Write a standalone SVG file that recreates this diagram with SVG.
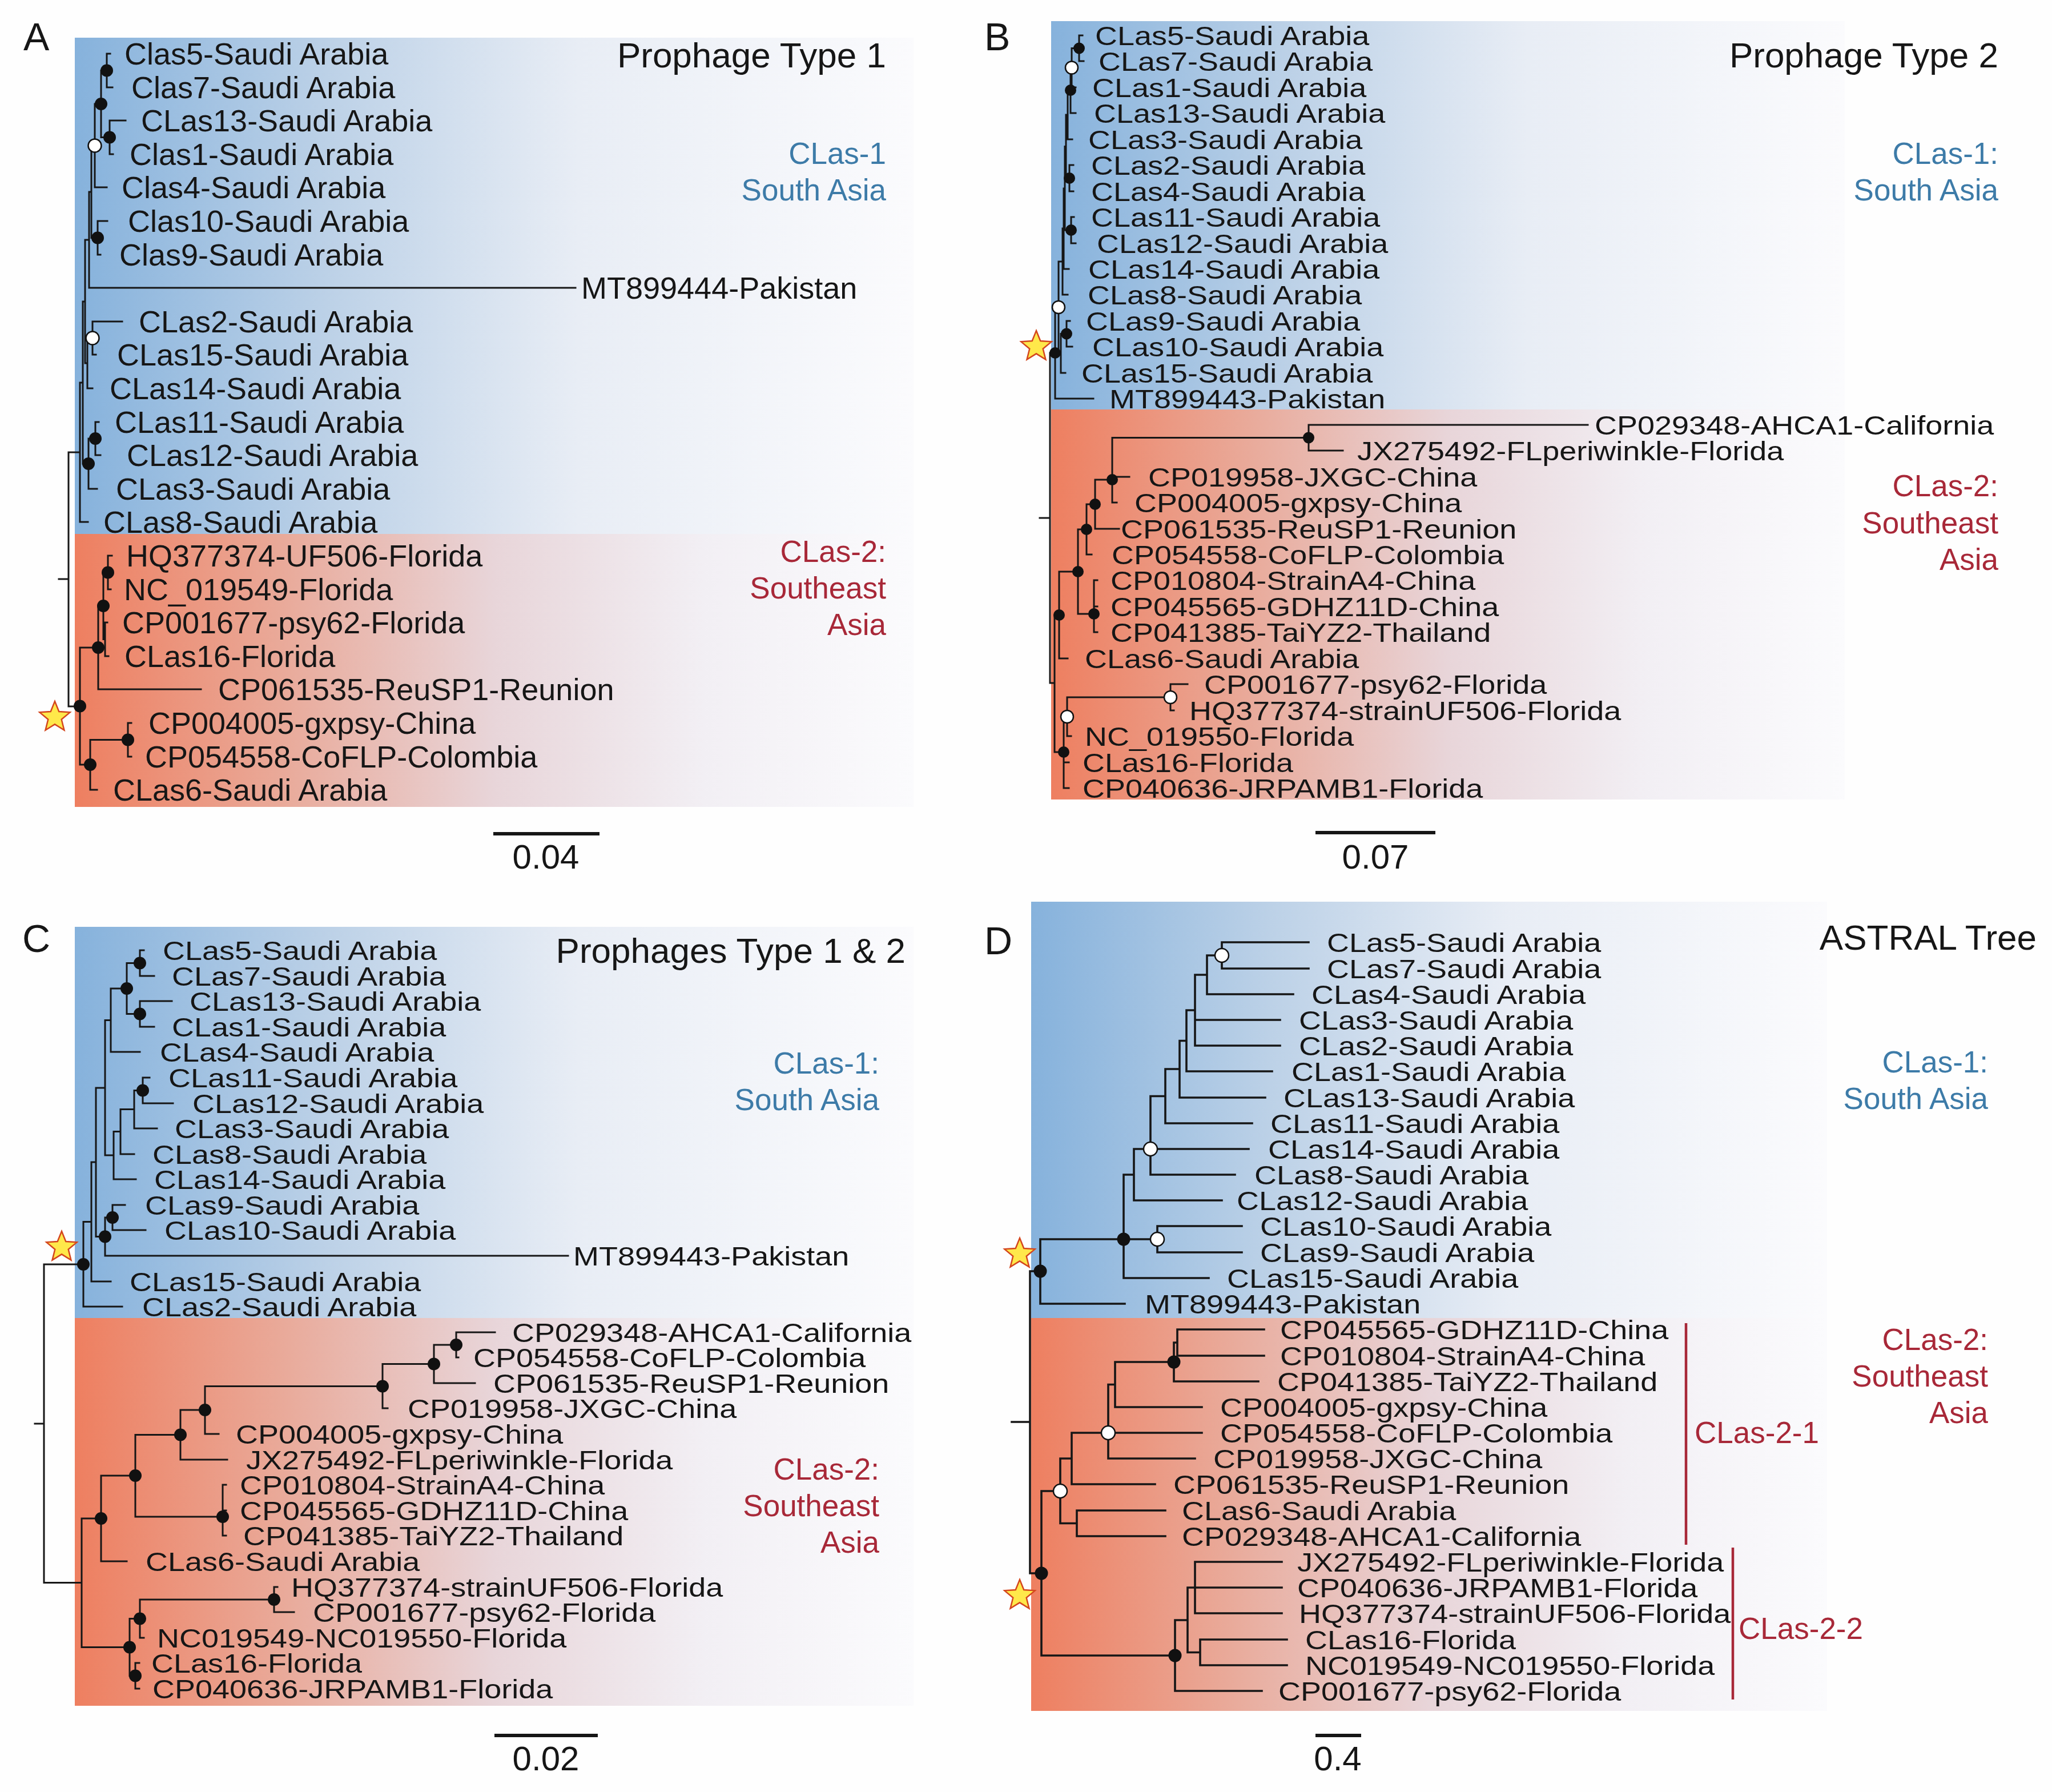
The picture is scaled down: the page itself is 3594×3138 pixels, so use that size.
<svg xmlns="http://www.w3.org/2000/svg" width="3594" height="3138" viewBox="0 0 3594 3138">
<style>
.t{font-family:"Liberation Sans",Arial,sans-serif;font-size:54px;fill:#161616}
.ti{font-family:"Liberation Sans",Arial,sans-serif;font-size:62px;fill:#161616;text-anchor:end}
.pl{font-family:"Liberation Sans",Arial,sans-serif;font-size:68px;fill:#161616}
.sc{font-family:"Liberation Sans",Arial,sans-serif;font-size:60px;fill:#161616;text-anchor:middle}
.c1{font-family:"Liberation Sans",Arial,sans-serif;font-size:53px;fill:#3d7ba8;text-anchor:end}
.c2{font-family:"Liberation Sans",Arial,sans-serif;font-size:53px;fill:#a82838;text-anchor:end}
.c2s{font-family:"Liberation Sans",Arial,sans-serif;font-size:53px;fill:#a82838}
.br{fill:none;stroke:#161616;stroke-width:3;stroke-linecap:square}
.brd{fill:none;stroke:#161616;stroke-width:3.6;stroke-linecap:square}
.bar{fill:none;stroke:#161616;stroke-width:6}
.rbar{fill:none;stroke:#a82838;stroke-width:4.5}
.dot{fill:#111}
.oc{fill:#fff;stroke:#111;stroke-width:2.5}
.star{fill:#ffe84a;stroke:#d4461d;stroke-width:2.5}
</style>
<defs>
<linearGradient id="gb" x1="0" y1="0" x2="1" y2="0">
<stop offset="0" stop-color="#86b2dc"/><stop offset="0.3" stop-color="#bcd1e7"/><stop offset="0.6" stop-color="#e8edf5"/><stop offset="1" stop-color="#fbfbfd"/>
</linearGradient>
<linearGradient id="go" x1="0" y1="0" x2="1" y2="0">
<stop offset="0" stop-color="#ee7f60"/><stop offset="0.25" stop-color="#e9aa9a"/><stop offset="0.5" stop-color="#e8d5d9"/><stop offset="0.75" stop-color="#f2eff4"/><stop offset="1" stop-color="#fbfbfd"/>
</linearGradient>
<path id="st" d="M0-28L7.25-9.97 26.63-8.66 11.72 3.81 16.45 22.66 0 12.32-16.45 22.66-11.72 3.81-26.63-8.66-7.25-9.97Z"/>
</defs>
<rect width="3594" height="3138" fill="#fefefe"/>

<!-- backgrounds -->
<g id="backgrounds">
<rect x="131" y="66" width="1469" height="869" fill="url(#gb)"/>
<rect x="131" y="935" width="1469" height="478" fill="url(#go)"/>
<rect x="1841" y="37" width="1390" height="680" fill="url(#gb)"/>
<rect x="1841" y="717" width="1390" height="683" fill="url(#go)"/>
<rect x="131" y="1623" width="1469" height="685" fill="url(#gb)"/>
<rect x="131" y="2308" width="1469" height="679" fill="url(#go)"/>
<rect x="1806" y="1579" width="1394" height="729" fill="url(#gb)"/>
<rect x="1806" y="2308" width="1394" height="688" fill="url(#go)"/>
</g>

<!-- connectors -->
<g id="connectors">
<path id="A-branches" class="br" d="M187 94V153M187 94H193M187 153H197M192 211V270M192 211H220M192 270H198M177 123.5V240.5M177 123.5H187M177 240.5H192M166 182V328M166 182H177M166 328H187M171 387V446M171 387H188M171 446H176M160 255V416.5M160 255H166M160 416.5H171M156 336V504M156 336H160M156 504H1008M162 563V621M162 563H214M162 621H168M153 592V680M153 592H162M153 680H162M149 420V636M149 420H156M149 636H153M167 739V797M167 739H173M167 797H176M155 768V856M155 768H167M155 856H170M145 528V812M145 528H149M145 812H155M140 670V914M140 670H145M140 914H154M120 792V1237M120 792H140M120 1237H140M103 1014H120M189 973V1032M189 973H196M189 1032H194M184 1090V1149M184 1090H188M184 1149H190M181 1002.5V1119.5M181 1002.5H189M181 1119.5H184M172 1061V1207M172 1061H181M172 1207H352M224 1266V1325M224 1266H230M224 1325H230M158 1295.5V1383M158 1295.5H224M158 1383H170M140 1134V1339M140 1134H172M140 1339H158"/>
<path id="B-branches" class="br" d="M1890 62V107M1890 62H1896M1890 107H1898M1877 84.5V153M1877 84.5H1890M1877 153H1884M1875 118.5V198M1875 118.5H1877M1875 198H1884M1870 158V244M1870 158H1875M1870 244H1878M1873 289V335M1873 289H1880M1873 335H1880M1867 201V312M1867 201H1870M1867 312H1873M1876 380V426M1876 380H1881M1876 426H1884M1865 256.5V403M1865 256.5H1867M1865 403H1876M1863 330V471M1863 330H1865M1863 471H1872M1861 400V516M1861 400H1863M1861 516H1870M1868 562V607M1868 562H1874M1868 607H1878M1858 584.5V653M1858 584.5H1868M1858 653H1866M1854 458V619M1854 458H1861M1854 619H1858M1848 538V698M1848 538H1854M1848 698H1915M1839 618V1196M1839 618H1848M1839 1196H1847M1821 907H1839M2292 744V789M2292 744H2781M2292 789H2352M1948 766.5V880M1948 766.5H2292M1948 835H1978M1948 880H1956M1918 840V926M1918 840H1948M1918 926H1960M1903 883V971M1903 883H1918M1903 971H1912M1916 1016V1107M1916 1016H1922M1916 1062H1922M1916 1107H1922M1888 927V1075M1888 927H1903M1888 1075H1916M1855 1001V1153M1855 1001H1888M1855 1153H1870M2050 1198V1244M2050 1198H2080M2050 1244H2056M1869 1221V1289M1869 1221H2050M1869 1289H1876M1863 1255V1380M1863 1255H1869M1863 1335H1872M1863 1380H1872M1847 1077V1317M1847 1077H1855M1847 1317H1863"/>
<path id="C-branches" class="br" d="M245 1664V1709M245 1664H252M245 1709H270M245 1753V1798M245 1753H301M245 1798H270M222 1686.5V1775.5M222 1686.5H245M222 1775.5H245M194 1731V1842M194 1731H222M194 1842H245M250 1887V1932M250 1887H262M250 1932H303M235 1909.5V1976M235 1909.5H250M235 1976H275M211 1942.5V2021M211 1942.5H235M211 2021H235M199 1981.5V2065M199 1981.5H211M199 2065H238M184 1786.5V2023M184 1786.5H194M184 2023H199M197 2110V2154M197 2110H219M197 2154H255M184 2132V2199M184 2132H197M184 2199H995M168 1905V2165.5M168 1905H184M168 2165.5H184M160 2035V2244M160 2035H168M160 2244H194M146 2139.5V2288M146 2139.5H160M146 2288H214M77 2214V2771.5M77 2214H146M77 2771.5H143M61 2493H77M799 2333V2377M799 2333H867M799 2377H803M760 2355V2422M760 2355H799M760 2422H832M670 2388.5V2466M670 2388.5H760M670 2466H679M359 2427.5V2511M359 2427.5H670M359 2511H383M316 2469V2556M316 2469H359M316 2556H398M390 2600V2689M390 2600H396M390 2645H396M390 2689H396M237 2512.5V2656M237 2512.5H316M237 2656H390M177 2584V2734M177 2584H237M177 2734H222M480 2779V2823M480 2779H486M480 2823H515M245 2801V2868M245 2801H480M245 2868H252M237 2912V2957M237 2912H244M237 2957H244M227 2834.5V2934.5M227 2834.5H245M227 2934.5H237M143 2659V2884.5M143 2659H177M143 2884.5H227"/>
<path id="D-branches" class="brd" d="M2140 1650V1696M2140 1650H2292M2140 1696H2292M2114 1673V1741M2114 1673H2140M2114 1741H2265M2093 1707V1831M2093 1707H2114M2093 1786H2242M2093 1831H2242M2078 1769V1876M2078 1769H2093M2078 1876H2228M2066 1822.5V1922M2066 1822.5H2078M2066 1922H2216M2041 1872V1967M2041 1872H2066M2041 1967H2193M2015 1919.5V2057M2015 1919.5H2041M2015 2012H2187M2015 2057H2163M1986 2012V2102M1986 2012H2015M1986 2102H2140M2027 2147V2193M2027 2147H2175M2027 2193H2175M1968 2057V2238M1968 2057H1986M1968 2170H2027M1968 2238H2117M1822 2170V2283M1822 2170H1968M1822 2283H1970M1804 2226V2755M1804 2226H1822M1804 2755H1824M1772 2490H1804M2062 2328V2374M2062 2328H2214M2062 2374H2214M2056 2351V2419M2056 2351H2062M2056 2419H2204M1953 2385V2464M1953 2385H2056M1953 2464H2105M1941 2424.5V2554M1941 2424.5H1953M1941 2509H2105M1941 2554H2093M1877 2509V2599M1877 2509H1941M1877 2599H2023M1886 2645V2690M1886 2645H2041M1886 2690H2041M1857 2554V2667.5M1857 2554H1877M1857 2667.5H1886M2093 2735V2825M2093 2735H2245M2093 2780H2245M2093 2825H2245M2102 2871V2916M2102 2871H2254M2102 2916H2254M2080 2780V2893.5M2080 2780H2093M2080 2893.5H2102M2058 2837V2961M2058 2837H2080M2058 2961H2210M1824 2611V2899M1824 2611H1857M1824 2899H2058"/>
</g>

<!-- internal node markers -->
<g id="A-nodes">
<g class="dot"><circle cx="187" cy="123.5" r="11"/><circle cx="177" cy="182" r="11"/><circle cx="192" cy="240.5" r="11"/><circle cx="171" cy="416.5" r="11"/><circle cx="167" cy="768" r="11"/><circle cx="155" cy="812" r="11"/><circle cx="189" cy="1002.5" r="11"/><circle cx="181" cy="1061" r="11"/><circle cx="172" cy="1134" r="11"/><circle cx="224" cy="1295.5" r="11"/><circle cx="158" cy="1339" r="11"/><circle cx="140" cy="1236.5" r="11"/></g>
<g class="oc"><circle cx="166" cy="255" r="11.5"/><circle cx="162" cy="592" r="11.5"/></g>
<use href="#st" class="star" x="96" y="1256"/>
</g>
<g id="B-nodes">
<g class="dot"><circle cx="1890" cy="84.5" r="10"/><circle cx="1875" cy="158" r="10"/><circle cx="1873" cy="312" r="10"/><circle cx="1876" cy="403" r="10"/><circle cx="1868" cy="584.5" r="10"/><circle cx="1848" cy="618" r="10"/><circle cx="2292" cy="766.5" r="10"/><circle cx="1948" cy="840" r="10"/><circle cx="1918" cy="883" r="10"/><circle cx="1903" cy="927" r="10"/><circle cx="1888" cy="1001" r="10"/><circle cx="1916" cy="1075" r="10"/><circle cx="1855" cy="1077" r="10"/><circle cx="1863" cy="1317" r="10"/></g>
<g class="oc"><circle cx="1877" cy="118.5" r="11"/><circle cx="1854" cy="538" r="11"/><circle cx="2050" cy="1221" r="11"/><circle cx="1869" cy="1255" r="11"/></g>
<use href="#st" class="star" x="1815" y="607"/>
</g>
<g id="C-nodes">
<g class="dot"><circle cx="245" cy="1686.5" r="11"/><circle cx="245" cy="1775.5" r="11"/><circle cx="222" cy="1731" r="11"/><circle cx="250" cy="1909.5" r="11"/><circle cx="197" cy="2132" r="11"/><circle cx="184" cy="2165.5" r="11"/><circle cx="146" cy="2214" r="11"/><circle cx="799" cy="2355" r="11"/><circle cx="760" cy="2388.5" r="11"/><circle cx="670" cy="2427.5" r="11"/><circle cx="359" cy="2469" r="11"/><circle cx="316" cy="2512.5" r="11"/><circle cx="390" cy="2656" r="11"/><circle cx="237" cy="2584" r="11"/><circle cx="177" cy="2659" r="11"/><circle cx="480" cy="2801" r="11"/><circle cx="245" cy="2834.5" r="11"/><circle cx="227" cy="2884.5" r="11"/><circle cx="237" cy="2934.5" r="11"/></g>
<use href="#st" class="star" x="108" y="2184"/>
</g>
<g id="D-nodes">
<g class="dot"><circle cx="1968" cy="2170" r="11.5"/><circle cx="1822" cy="2226" r="11.5"/><circle cx="2056" cy="2385" r="11.5"/><circle cx="2058" cy="2899" r="11.5"/><circle cx="1824" cy="2755" r="11.5"/></g>
<g class="oc"><circle cx="2140" cy="1673" r="12"/><circle cx="2015" cy="2012" r="12"/><circle cx="2027" cy="2170" r="12"/><circle cx="1941" cy="2509" r="12"/><circle cx="1857" cy="2611" r="12"/></g>
<use href="#st" class="star" x="1786" y="2196"/>
<use href="#st" class="star" x="1786" y="2794"/>
</g>

<!-- Panel A -->
<g id="panel-A">
<text class="pl" x="41" y="88">A</text>
<text class="ti" x="1552" y="118">Prophage Type 1</text>
<text class="c1" x="1552" y="287">CLas-1</text>
<text class="c1" x="1552" y="351">South Asia</text>
<text class="c2" x="1552" y="984">CLas-2:</text>
<text class="c2" x="1552" y="1048">Southeast</text>
<text class="c2" x="1552" y="1112">Asia</text>
<path class="bar" d="M864 1460H1050"/>
<text class="sc" x="956" y="1521">0.04</text>
<g id="A-leaf-1"><text class="t" x="218" y="113">Clas5-Saudi Arabia</text></g>
<g id="A-leaf-2"><text class="t" x="230" y="172">Clas7-Saudi Arabia</text></g>
<g id="A-leaf-3"><text class="t" x="247" y="230">CLas13-Saudi Arabia</text></g>
<g id="A-leaf-4"><text class="t" x="227" y="289">Clas1-Saudi Arabia</text></g>
<g id="A-leaf-5"><text class="t" x="213" y="347">Clas4-Saudi Arabia</text></g>
<g id="A-leaf-6"><text class="t" x="224" y="406">Clas10-Saudi Arabia</text></g>
<g id="A-leaf-7"><text class="t" x="209" y="465">Clas9-Saudi Arabia</text></g>
<g id="A-leaf-8"><text class="t" x="1018" y="523">MT899444-Pakistan</text></g>
<g id="A-leaf-9"><text class="t" x="243" y="582">CLas2-Saudi Arabia</text></g>
<g id="A-leaf-10"><text class="t" x="205" y="640">CLas15-Saudi Arabia</text></g>
<g id="A-leaf-11"><text class="t" x="192" y="699">CLas14-Saudi Arabia</text></g>
<g id="A-leaf-12"><text class="t" x="201" y="758">CLas11-Saudi Arabia</text></g>
<g id="A-leaf-13"><text class="t" x="222" y="816">CLas12-Saudi Arabia</text></g>
<g id="A-leaf-14"><text class="t" x="203" y="875">CLas3-Saudi Arabia</text></g>
<g id="A-leaf-15"><text class="t" x="181" y="933">CLas8-Saudi Arabia</text></g>
<g id="A-leaf-16"><text class="t" x="221" y="992">HQ377374-UF506-Florida</text></g>
<g id="A-leaf-17"><text class="t" x="217" y="1051">NC_019549-Florida</text></g>
<g id="A-leaf-18"><text class="t" x="214" y="1109">CP001677-psy62-Florida</text></g>
<g id="A-leaf-19"><text class="t" x="218" y="1168">CLas16-Florida</text></g>
<g id="A-leaf-20"><text class="t" x="382" y="1226">CP061535-ReuSP1-Reunion</text></g>
<g id="A-leaf-21"><text class="t" x="260" y="1285">CP004005-gxpsy-China</text></g>
<g id="A-leaf-22"><text class="t" x="254" y="1344">CP054558-CoFLP-Colombia</text></g>
<g id="A-leaf-23"><text class="t" x="198" y="1402">CLas6-Saudi Arabia</text></g>
</g>

<!-- Panel B -->
<g id="panel-B">
<text class="pl" x="1724" y="88">B</text>
<text class="ti" x="3500" y="118">Prophage Type 2</text>
<text class="c1" x="3500" y="287">CLas-1:</text>
<text class="c1" x="3500" y="351">South Asia</text>
<text class="c2" x="3500" y="869">CLas-2:</text>
<text class="c2" x="3500" y="934">Southeast</text>
<text class="c2" x="3500" y="998">Asia</text>
<path class="bar" d="M2304 1458H2514"/>
<text class="sc" x="2409" y="1521">0.07</text>
<g id="B-leaf-1"><text class="t" transform="matrix(1 0 0 .85 1918 79)">CLas5-Saudi Arabia</text></g>
<g id="B-leaf-2"><text class="t" transform="matrix(1 0 0 .85 1924 124)">CLas7-Saudi Arabia</text></g>
<g id="B-leaf-3"><text class="t" transform="matrix(1 0 0 .85 1913 170)">CLas1-Saudi Arabia</text></g>
<g id="B-leaf-4"><text class="t" transform="matrix(1 0 0 .85 1916 215)">CLas13-Saudi Arabia</text></g>
<g id="B-leaf-5"><text class="t" transform="matrix(1 0 0 .85 1906 261)">CLas3-Saudi Arabia</text></g>
<g id="B-leaf-6"><text class="t" transform="matrix(1 0 0 .85 1911 306)">CLas2-Saudi Arabia</text></g>
<g id="B-leaf-7"><text class="t" transform="matrix(1 0 0 .85 1911 352)">CLas4-Saudi Arabia</text></g>
<g id="B-leaf-8"><text class="t" transform="matrix(1 0 0 .85 1911 397)">CLas11-Saudi Arabia</text></g>
<g id="B-leaf-9"><text class="t" transform="matrix(1 0 0 .85 1921 443)">CLas12-Saudi Arabia</text></g>
<g id="B-leaf-10"><text class="t" transform="matrix(1 0 0 .85 1906 488)">CLas14-Saudi Arabia</text></g>
<g id="B-leaf-11"><text class="t" transform="matrix(1 0 0 .85 1905 533)">CLas8-Saudi Arabia</text></g>
<g id="B-leaf-12"><text class="t" transform="matrix(1 0 0 .85 1902 579)">CLas9-Saudi Arabia</text></g>
<g id="B-leaf-13"><text class="t" transform="matrix(1 0 0 .85 1913 624)">CLas10-Saudi Arabia</text></g>
<g id="B-leaf-14"><text class="t" transform="matrix(1 0 0 .85 1894 670)">CLas15-Saudi Arabia</text></g>
<g id="B-leaf-15"><text class="t" transform="matrix(1 0 0 .85 1943 715)">MT899443-Pakistan</text></g>
<g id="B-leaf-16"><text class="t" transform="matrix(1 0 0 .85 2793 761)">CP029348-AHCA1-California</text></g>
<g id="B-leaf-17"><text class="t" transform="matrix(1 0 0 .85 2377 806)">JX275492-FLperiwinkle-Florida</text></g>
<g id="B-leaf-18"><text class="t" transform="matrix(1 0 0 .85 2011 852)">CP019958-JXGC-China</text></g>
<g id="B-leaf-19"><text class="t" transform="matrix(1 0 0 .85 1987 897)">CP004005-gxpsy-China</text></g>
<g id="B-leaf-20"><text class="t" transform="matrix(1 0 0 .85 1963 943)">CP061535-ReuSP1-Reunion</text></g>
<g id="B-leaf-21"><text class="t" transform="matrix(1 0 0 .85 1947 988)">CP054558-CoFLP-Colombia</text></g>
<g id="B-leaf-22"><text class="t" transform="matrix(1 0 0 .85 1945 1033)">CP010804-StrainA4-China</text></g>
<g id="B-leaf-23"><text class="t" transform="matrix(1 0 0 .85 1945 1079)">CP045565-GDHZ11D-China</text></g>
<g id="B-leaf-24"><text class="t" transform="matrix(1 0 0 .85 1945 1124)">CP041385-TaiYZ2-Thailand</text></g>
<g id="B-leaf-25"><text class="t" transform="matrix(1 0 0 .85 1900 1170)">CLas6-Saudi Arabia</text></g>
<g id="B-leaf-26"><text class="t" transform="matrix(1 0 0 .85 2109 1215)">CP001677-psy62-Florida</text></g>
<g id="B-leaf-27"><text class="t" transform="matrix(1 0 0 .85 2083 1261)">HQ377374-strainUF506-Florida</text></g>
<g id="B-leaf-28"><text class="t" transform="matrix(1 0 0 .85 1900 1306)">NC_019550-Florida</text></g>
<g id="B-leaf-29"><text class="t" transform="matrix(1 0 0 .85 1896 1352)">CLas16-Florida</text></g>
<g id="B-leaf-30"><text class="t" transform="matrix(1 0 0 .85 1896 1397)">CP040636-JRPAMB1-Florida</text></g>
</g>

<!-- Panel C -->
<g id="panel-C">
<text class="pl" x="39" y="1667">C</text>
<text class="ti" x="1586" y="1686">Prophages Type 1 &amp; 2</text>
<text class="c1" x="1540" y="1880">CLas-1:</text>
<text class="c1" x="1540" y="1944">South Asia</text>
<text class="c2" x="1540" y="2591">CLas-2:</text>
<text class="c2" x="1540" y="2655">Southeast</text>
<text class="c2" x="1540" y="2719">Asia</text>
<path class="bar" d="M866 3039H1047"/>
<text class="sc" x="956" y="3100">0.02</text>
<g id="C-leaf-1"><text class="t" transform="matrix(1 0 0 .85 285 1681)">CLas5-Saudi Arabia</text></g>
<g id="C-leaf-2"><text class="t" transform="matrix(1 0 0 .85 301 1726)">CLas7-Saudi Arabia</text></g>
<g id="C-leaf-3"><text class="t" transform="matrix(1 0 0 .85 332 1770)">CLas13-Saudi Arabia</text></g>
<g id="C-leaf-4"><text class="t" transform="matrix(1 0 0 .85 301 1815)">CLas1-Saudi Arabia</text></g>
<g id="C-leaf-5"><text class="t" transform="matrix(1 0 0 .85 280 1859)">CLas4-Saudi Arabia</text></g>
<g id="C-leaf-6"><text class="t" transform="matrix(1 0 0 .85 295 1904)">CLas11-Saudi Arabia</text></g>
<g id="C-leaf-7"><text class="t" transform="matrix(1 0 0 .85 337 1949)">CLas12-Saudi Arabia</text></g>
<g id="C-leaf-8"><text class="t" transform="matrix(1 0 0 .85 306 1993)">CLas3-Saudi Arabia</text></g>
<g id="C-leaf-9"><text class="t" transform="matrix(1 0 0 .85 267 2038)">CLas8-Saudi Arabia</text></g>
<g id="C-leaf-10"><text class="t" transform="matrix(1 0 0 .85 270 2082)">CLas14-Saudi Arabia</text></g>
<g id="C-leaf-11"><text class="t" transform="matrix(1 0 0 .85 254 2127)">CLas9-Saudi Arabia</text></g>
<g id="C-leaf-12"><text class="t" transform="matrix(1 0 0 .85 288 2171)">CLas10-Saudi Arabia</text></g>
<g id="C-leaf-13"><text class="t" transform="matrix(1 0 0 .85 1004 2216)">MT899443-Pakistan</text></g>
<g id="C-leaf-14"><text class="t" transform="matrix(1 0 0 .85 227 2261)">CLas15-Saudi Arabia</text></g>
<g id="C-leaf-15"><text class="t" transform="matrix(1 0 0 .85 249 2305)">CLas2-Saudi Arabia</text></g>
<g id="C-leaf-16"><text class="t" transform="matrix(1 0 0 .85 897 2350)">CP029348-AHCA1-California</text></g>
<g id="C-leaf-17"><text class="t" transform="matrix(1 0 0 .85 829 2394)">CP054558-CoFLP-Colombia</text></g>
<g id="C-leaf-18"><text class="t" transform="matrix(1 0 0 .85 864 2439)">CP061535-ReuSP1-Reunion</text></g>
<g id="C-leaf-19"><text class="t" transform="matrix(1 0 0 .85 714 2483)">CP019958-JXGC-China</text></g>
<g id="C-leaf-20"><text class="t" transform="matrix(1 0 0 .85 413 2528)">CP004005-gxpsy-China</text></g>
<g id="C-leaf-21"><text class="t" transform="matrix(1 0 0 .85 431 2573)">JX275492-FLperiwinkle-Florida</text></g>
<g id="C-leaf-22"><text class="t" transform="matrix(1 0 0 .85 420 2617)">CP010804-StrainA4-China</text></g>
<g id="C-leaf-23"><text class="t" transform="matrix(1 0 0 .85 420 2662)">CP045565-GDHZ11D-China</text></g>
<g id="C-leaf-24"><text class="t" transform="matrix(1 0 0 .85 426 2706)">CP041385-TaiYZ2-Thailand</text></g>
<g id="C-leaf-25"><text class="t" transform="matrix(1 0 0 .85 255 2751)">CLas6-Saudi Arabia</text></g>
<g id="C-leaf-26"><text class="t" transform="matrix(1 0 0 .85 510 2796)">HQ377374-strainUF506-Florida</text></g>
<g id="C-leaf-27"><text class="t" transform="matrix(1 0 0 .85 548 2840)">CP001677-psy62-Florida</text></g>
<g id="C-leaf-28"><text class="t" transform="matrix(1 0 0 .85 275 2885)">NC019549-NC019550-Florida</text></g>
<g id="C-leaf-29"><text class="t" transform="matrix(1 0 0 .85 265 2929)">CLas16-Florida</text></g>
<g id="C-leaf-30"><text class="t" transform="matrix(1 0 0 .85 267 2974)">CP040636-JRPAMB1-Florida</text></g>
</g>

<!-- Panel D -->
<g id="panel-D">
<text class="pl" x="1724" y="1671">D</text>
<text class="ti" x="3567" y="1663">ASTRAL Tree</text>
<text class="c1" x="3482" y="1878">CLas-1:</text>
<text class="c1" x="3482" y="1942">South Asia</text>
<text class="c2" x="3482" y="2364">CLas-2:</text>
<text class="c2" x="3482" y="2428">Southeast</text>
<text class="c2" x="3482" y="2492">Asia</text>
<path class="rbar" d="M2953 2317V2705M3035 2710V2976"/>
<text class="c2s" x="2968" y="2527">CLas-2-1</text>
<text class="c2s" x="3045" y="2870">CLas-2-2</text>
<path class="bar" d="M2304 3039H2384"/>
<text class="sc" x="2343" y="3100">0.4</text>
<g id="D-leaf-1"><text class="t" transform="matrix(1 0 0 .85 2324 1667)">CLas5-Saudi Arabia</text></g>
<g id="D-leaf-2"><text class="t" transform="matrix(1 0 0 .85 2324 1713)">CLas7-Saudi Arabia</text></g>
<g id="D-leaf-3"><text class="t" transform="matrix(1 0 0 .85 2297 1758)">CLas4-Saudi Arabia</text></g>
<g id="D-leaf-4"><text class="t" transform="matrix(1 0 0 .85 2275 1803)">CLas3-Saudi Arabia</text></g>
<g id="D-leaf-5"><text class="t" transform="matrix(1 0 0 .85 2275 1848)">CLas2-Saudi Arabia</text></g>
<g id="D-leaf-6"><text class="t" transform="matrix(1 0 0 .85 2262 1893)">CLas1-Saudi Arabia</text></g>
<g id="D-leaf-7"><text class="t" transform="matrix(1 0 0 .85 2248 1939)">CLas13-Saudi Arabia</text></g>
<g id="D-leaf-8"><text class="t" transform="matrix(1 0 0 .85 2225 1984)">CLas11-Saudi Arabia</text></g>
<g id="D-leaf-9"><text class="t" transform="matrix(1 0 0 .85 2221 2029)">CLas14-Saudi Arabia</text></g>
<g id="D-leaf-10"><text class="t" transform="matrix(1 0 0 .85 2197 2074)">CLas8-Saudi Arabia</text></g>
<g id="D-leaf-11"><text class="t" transform="matrix(1 0 0 .85 2166 2119)">CLas12-Saudi Arabia</text></g>
<g id="D-leaf-12"><text class="t" transform="matrix(1 0 0 .85 2207 2164)">CLas10-Saudi Arabia</text></g>
<g id="D-leaf-13"><text class="t" transform="matrix(1 0 0 .85 2207 2210)">CLas9-Saudi Arabia</text></g>
<g id="D-leaf-14"><text class="t" transform="matrix(1 0 0 .85 2149 2255)">CLas15-Saudi Arabia</text></g>
<g id="D-leaf-15"><text class="t" transform="matrix(1 0 0 .85 2005 2300)">MT899443-Pakistan</text></g>
<g id="D-leaf-16"><text class="t" transform="matrix(1 0 0 .85 2242 2345)">CP045565-GDHZ11D-China</text></g>
<g id="D-leaf-17"><text class="t" transform="matrix(1 0 0 .85 2242 2391)">CP010804-StrainA4-China</text></g>
<g id="D-leaf-18"><text class="t" transform="matrix(1 0 0 .85 2237 2436)">CP041385-TaiYZ2-Thailand</text></g>
<g id="D-leaf-19"><text class="t" transform="matrix(1 0 0 .85 2137 2481)">CP004005-gxpsy-China</text></g>
<g id="D-leaf-20"><text class="t" transform="matrix(1 0 0 .85 2137 2526)">CP054558-CoFLP-Colombia</text></g>
<g id="D-leaf-21"><text class="t" transform="matrix(1 0 0 .85 2125 2571)">CP019958-JXGC-China</text></g>
<g id="D-leaf-22"><text class="t" transform="matrix(1 0 0 .85 2055 2616)">CP061535-ReuSP1-Reunion</text></g>
<g id="D-leaf-23"><text class="t" transform="matrix(1 0 0 .85 2070 2662)">CLas6-Saudi Arabia</text></g>
<g id="D-leaf-24"><text class="t" transform="matrix(1 0 0 .85 2070 2707)">CP029348-AHCA1-California</text></g>
<g id="D-leaf-25"><text class="t" transform="matrix(1 0 0 .85 2272 2752)">JX275492-FLperiwinkle-Florida</text></g>
<g id="D-leaf-26"><text class="t" transform="matrix(1 0 0 .85 2272 2797)">CP040636-JRPAMB1-Florida</text></g>
<g id="D-leaf-27"><text class="t" transform="matrix(1 0 0 .85 2275 2842)">HQ377374-strainUF506-Florida</text></g>
<g id="D-leaf-28"><text class="t" transform="matrix(1 0 0 .85 2286 2888)">CLas16-Florida</text></g>
<g id="D-leaf-29"><text class="t" transform="matrix(1 0 0 .85 2286 2933)">NC019549-NC019550-Florida</text></g>
<g id="D-leaf-30"><text class="t" transform="matrix(1 0 0 .85 2239 2978)">CP001677-psy62-Florida</text></g>
</g>
</svg>
